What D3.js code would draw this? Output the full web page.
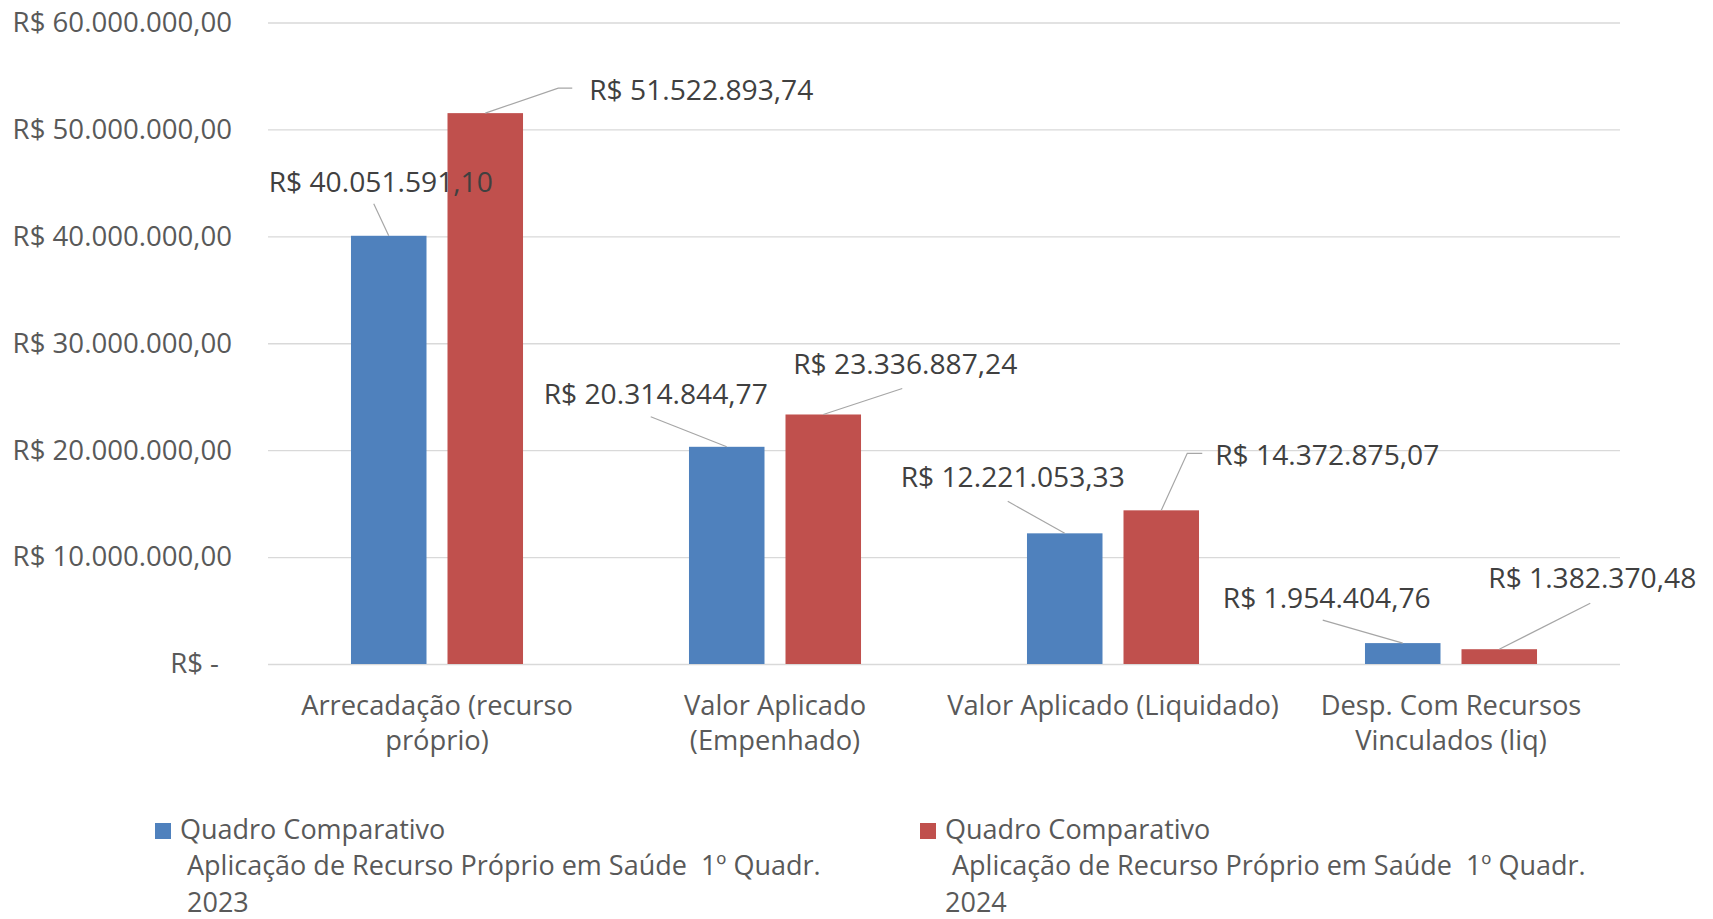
<!DOCTYPE html>
<html>
<head>
<meta charset="utf-8">
<script src="https://cdn.jsdelivr.net/npm/d3@7"></script>
<style>
  body { margin: 0; background: #fff; }
  text { font-family: "Open Sans", sans-serif; }
</style>
</head>
<body>
<svg id="chart"></svg>
<script>
const categories = [
  "Arrecadação (recurso\npróprio)",
  "Valor Aplicado\n(Empenhado)",
  "Valor Aplicado (Liquidado)",
  "Desp. Com Recursos\nVinculados (liq)"
];
const seriesNames = [
  "Quadro Comparativo\n Aplicação de Recurso Próprio em Saúde  1º Quadr.\n 2023",
  "Quadro Comparativo\n Aplicação de Recurso Próprio em Saúde  1º Quadr.\n2024"
];
const values2023 = [40051591.10, 20314844.77, 12221053.33, 1954404.76];
const values2024 = [51522893.74, 23336887.24, 14372875.07, 1382370.48];
const yTicks = [0, 10000000, 20000000, 30000000, 40000000, 50000000, 60000000];

const colors = ["#4F81BD", "#C0504D"];

// data labels were moved by hand in the original, offsets from the bar top centre
const labelOffsets = [
  [[-8, -54], [-71, -53], [-52, -56], [-76, -45]],
  [[216, -23], [82, -50], [166, -55], [93, -71]]
];
// leader line points, same reference
const leaderOffsets = [
  [[[-15, -32]], [[-76, -30]], [[-57, -32]], [[-80, -23]]],
  [[[73, -25], [87, -25]], [[79, -26]], [[26, -57], [41, -57]], [[91, -46]]]
];

const width = 1713, height = 919;
const plotLeft = 268, plotRight = 1620, plotTop = 22.5, plotBottom = 664;

const svg = d3.select("#chart").attr("width", width).attr("height", height);
svg.append("rect").attr("width", width).attr("height", height).attr("fill", "#fff");

const locale = d3.formatLocale({ decimal: ",", thousands: ".", grouping: [3], currency: ["R$ ", ""] });
const money = locale.format("$,.2f");

const y = d3.scaleLinear().domain([0, 60000000]).range([plotBottom, plotTop]);
const x0 = d3.scaleBand().domain(categories).range([plotLeft, plotRight]).paddingInner(0.491).paddingOuter(0.2455);
const x1 = d3.scaleBand().domain([0, 1]).range([0, x0.bandwidth()]).paddingInner(0.2176);

// y axis + gridlines
const yAxis = svg.append("g")
  .attr("transform", `translate(${plotLeft},0)`)
  .call(d3.axisLeft(y).tickValues(yTicks).tickSize(-(plotRight - plotLeft)).tickPadding(36)
    .tickFormat(d => d === 0 ? "R$ -" : money(d)));
yAxis.select(".domain").remove();
yAxis.selectAll(".tick line").attr("stroke", "#D9D9D9").attr("stroke-width", 1.3);
yAxis.selectAll(".tick text")
  .attr("fill", "#595959").attr("font-size", 27.6)
  .attr("dx", d => d === 0 ? -13 : 0);

// x axis labels
const xAxis = svg.append("g")
  .attr("transform", `translate(0,${plotBottom})`)
  .call(d3.axisBottom(x0).tickSize(0));
xAxis.select(".domain").remove();
xAxis.selectAll(".tick text")
  .attr("fill", "#595959").attr("font-size", 27.3).attr("dy", 0).attr("y", 0)
  .each(function (d) {
    const t = d3.select(this).text(null);
    d.split("\n").forEach((line, i) => {
      t.append("tspan").attr("x", 0).attr("y", 51 + i * 35).text(line);
    });
  });

// bars
const series = [values2023, values2024];
series.forEach((vals, s) => {
  svg.append("g").selectAll("rect")
    .data(vals)
    .join("rect")
    .attr("x", (d, i) => x0(categories[i]) + x1(s))
    .attr("y", d => y(d))
    .attr("width", x1.bandwidth())
    .attr("height", d => y(0) - y(d))
    .attr("fill", colors[s]);
});

// leader lines + data labels
series.forEach((vals, s) => {
  vals.forEach((v, i) => {
    const bx = x0(categories[i]) + x1(s) + x1.bandwidth() / 2;
    const by = y(v);
    const pts = [[bx, by]].concat(leaderOffsets[s][i].map(p => [bx + p[0], by + p[1]]));
    svg.append("path")
      .attr("d", d3.line()(pts))
      .attr("fill", "none")
      .attr("stroke", "#A6A6A6")
      .attr("stroke-width", 1.2);
    svg.append("text")
      .attr("x", bx + labelOffsets[s][i][0])
      .attr("y", by + labelOffsets[s][i][1])
      .attr("dy", "0.35em")
      .attr("text-anchor", "middle")
      .attr("font-size", 28.2)
      .attr("fill", "#404040")
      .text(money(v));
  });
});

// legend
const legendX = [155, 920];
seriesNames.forEach((name, s) => {
  const g = svg.append("g").attr("transform", `translate(${legendX[s]},823)`);
  g.append("rect").attr("width", 16).attr("height", 16).attr("fill", colors[s]);
  g.selectAll("text")
    .data(name.split("\n"))
    .join("text")
    .attr("x", 25)
    .attr("y", (d, i) => 15.5 + i * 36.5)
    .attr("font-size", 27)
    .attr("fill", "#595959")
    .attr("xml:space", "preserve")
    .style("white-space", "pre")
    .text(d => d);
});
</script>
</body>
</html>
